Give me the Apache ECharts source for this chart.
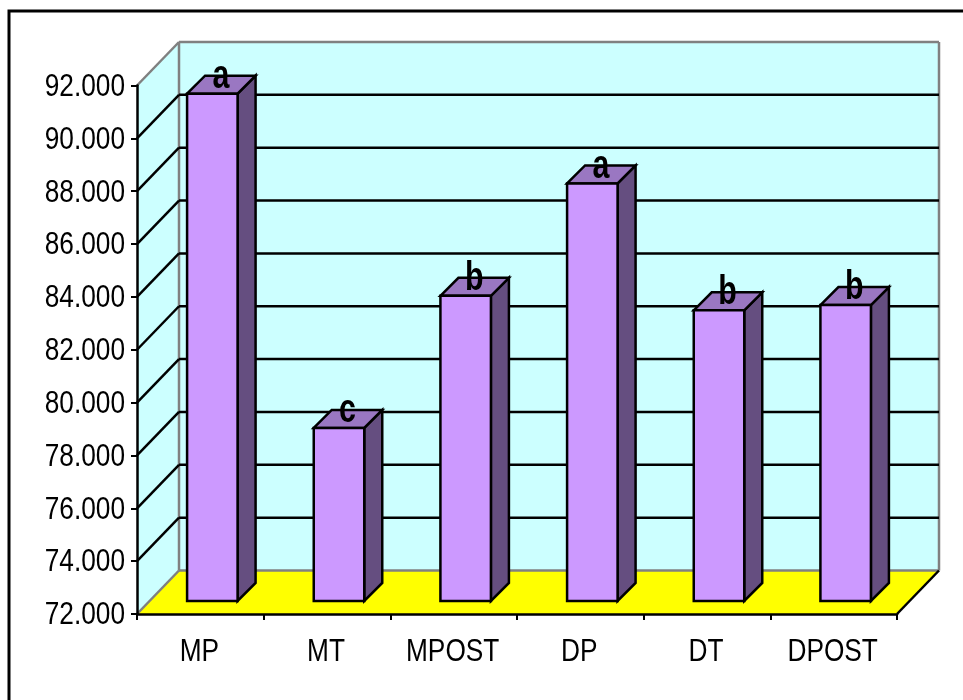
<!DOCTYPE html>
<html>
<head>
<meta charset="utf-8">
<style>
  html, body { margin: 0; padding: 0; background: #fff; overflow: hidden; }
  #chart { width: 963px; height: 700px; }
</style>
<script src="https://cdn.jsdelivr.net/npm/echarts@6/dist/echarts.min.js"></script>
</head>
<body>
<div id="chart"></div>
<script>
// Categories and measured means
const categories = ['MP', 'MT', 'MPOST', 'DP', 'DT', 'DPOST'];
const means = [91.2, 78.55, 83.55, 87.8, 83.0, 83.2];
const groupLetters = ['a', 'c', 'b', 'a', 'b', 'b'];
const gridLevels = [74, 76, 78, 80, 82, 84, 86, 88, 90];
const tickValues = [72, 74, 76, 78, 80, 82, 84, 86, 88, 90, 92];
const tickLabels = ['72.000', '74.000', '76.000', '78.000', '80.000', '82.000', '84.000', '86.000', '88.000', '90.000', '92.000'];
const axisMin = 72;
const axisMax = 92;
const axisStep = 2;

// Oblique projection of the pseudo-3D box
const DEPTH_X = 42;
const DEPTH_Y = -43.5;
const BAR_SHIFT_X = 12;
const BAR_SHIFT_Y = -13;
const BAR_DEPTH = 18;
const BAR_WIDTH = 50.5;

const FONT = '"Liberation Sans", Arial, sans-serif';
const NARROW = 0.82;

function poly(points, fill, stroke, lineWidth) {
  return {
    type: 'polygon',
    shape: { points },
    style: { fill, stroke: stroke || null, lineWidth: lineWidth || 0, lineJoin: 'miter' }
  };
}
function seg(a, b, stroke, lineWidth) {
  return {
    type: 'line',
    shape: { x1: a[0], y1: a[1], x2: b[0], y2: b[1] },
    style: { stroke, lineWidth }
  };
}
// Horizontally condensed text anchored at x, y
function squeezedText(x, y, text, font, align, vAlign, squeeze) {
  return {
    type: 'text',
    x, y,
    scaleX: squeeze,
    z2: 5,
    style: { x: 0, y: 0, text, fill: '#000', font, align, verticalAlign: vAlign }
  };
}

// Side wall, back wall and floor of the box
function renderRoom(params, api) {
  const cs = params.coordSys;
  const left = cs.x, right = cs.x + cs.width, top = cs.y, bottom = cs.y + cs.height;
  const dx = DEPTH_X, dy = DEPTH_Y;
  const wall = '#ccffff', edge = '#808080';
  return {
    type: 'group',
    children: [
      poly([[left, top], [left + dx, top + dy], [left + dx, bottom + dy], [left, bottom]], wall),
      poly([[left + dx, top + dy], [right + dx, top + dy], [right + dx, bottom + dy], [left + dx, bottom + dy]], wall),
      poly([[left, bottom], [left + dx, bottom + dy], [right + dx, bottom + dy], [right, bottom]], '#ffff00'),
      seg([left, top], [left + dx, top + dy], edge, 2.5),
      seg([left + dx, top + dy], [right + dx, top + dy], edge, 2.5),
      seg([right + dx, top + dy], [right + dx, bottom + dy], edge, 2.5),
      seg([left + dx, top + dy], [left + dx, bottom + dy], edge, 2.5),
      seg([left + dx, bottom + dy], [right + dx, bottom + dy], edge, 2.5),
      seg([left, bottom], [left + dx, bottom + dy], edge, 2.5),
      seg([right, bottom], [right + dx, bottom + dy], '#000', 2.5)
    ]
  };
}

// One gridline level bent across the side wall and the back wall
function renderLevel(params, api) {
  const cs = params.coordSys;
  const y = api.coord([0, api.value(0)])[1];
  const left = cs.x, right = cs.x + cs.width;
  return {
    type: 'group',
    children: [
      seg([left, y], [left + DEPTH_X, y + DEPTH_Y], '#000', 2.5),
      seg([left + DEPTH_X, y + DEPTH_Y], [right + DEPTH_X, y + DEPTH_Y], '#000', 2.5)
    ]
  };
}

// A prism standing on the floor, with its letter above the top face
function renderBar(params, api) {
  const p = api.coord([api.value(0), api.value(1)]);
  const base = api.coord([api.value(0), axisMin]);
  const x0 = p[0] + BAR_SHIFT_X - BAR_WIDTH / 2;
  const x1 = x0 + BAR_WIDTH;
  const yTop = p[1] + BAR_SHIFT_Y;
  const yBase = base[1] + BAR_SHIFT_Y;
  const d = BAR_DEPTH;
  const stroke = '#000', lw = 2.5;
  return {
    type: 'group',
    children: [
      poly([[x1, yTop], [x1 + d, yTop - d], [x1 + d, yBase - d], [x1, yBase]], '#654e80', stroke, lw),
      poly([[x0, yTop], [x0 + d, yTop - d], [x1 + d, yTop - d], [x1, yTop]], '#9a77c2', stroke, lw),
      poly([[x0, yTop], [x1, yTop], [x1, yBase], [x0, yBase]], '#cc99ff', stroke, lw),
      squeezedText(x0 + BAR_WIDTH / 2 + d / 2 - 0.5, yTop + 3, groupLetters[params.dataIndex],
        'bold 40px ' + FONT, 'center', 'bottom', 0.76)
    ]
  };
}

// Category names under the floor edge
function renderCategoryLabel(params, api) {
  const p = api.coord([api.value(0), axisMin]);
  return squeezedText(p[0] - 1, p[1] + 38, categories[params.dataIndex],
    '32px ' + FONT, 'center', 'middle', NARROW);
}

// Value labels to the left of the axis
function renderValueLabel(params, api) {
  const p = api.coord([0, api.value(0)]);
  return squeezedText(params.coordSys.x - 12, p[1] + 1.5, tickLabels[params.dataIndex],
    '32px ' + FONT, 'right', 'middle', NARROW);
}

const chart = echarts.init(document.getElementById('chart'), null, { renderer: 'canvas' });
chart.setOption({
  animation: false,
  backgroundColor: '#fff',
  grid: { left: 137, right: 66, top: 85.5, bottom: 86 },
  graphic: [{
    type: 'rect',
    silent: true,
    z: -10,
    shape: { x: 9, y: 11, width: 1100, height: 1000 },
    style: { fill: 'none', stroke: '#000', lineWidth: 3 }
  }],
  xAxis: {
    type: 'category',
    data: categories,
    z: 10,
    axisLine: { show: true, lineStyle: { color: '#000', width: 2.5 } },
    axisTick: { show: true, interval: 0, length: 6, lineStyle: { color: '#000', width: 2 } },
    axisLabel: { show: false }
  },
  yAxis: {
    type: 'value',
    min: axisMin,
    max: axisMax,
    interval: axisStep,
    z: 10,
    axisLine: { show: true, lineStyle: { color: '#000', width: 2.5 } },
    axisTick: { show: true, length: 6, lineStyle: { color: '#000', width: 2 } },
    axisLabel: { show: false },
    splitLine: { show: false }
  },
  series: [
    { type: 'custom', z: 1, clip: false, silent: true, renderItem: renderRoom, data: [0], encode: { x: 0 } },
    { type: 'custom', z: 2, clip: false, silent: true, renderItem: renderLevel, data: gridLevels.map(v => [v]), encode: { y: 0 } },
    { type: 'custom', z: 3, clip: false, silent: true, renderItem: renderBar,
      data: categories.map((c, i) => [i, means[i]]), encode: { x: 0, y: 1 } },
    { type: 'custom', z: 4, clip: false, silent: true, renderItem: renderCategoryLabel,
      data: categories.map((c, i) => [i]), encode: { x: 0 } },
    { type: 'custom', z: 4, clip: false, silent: true, renderItem: renderValueLabel,
      data: tickValues.map(v => [v]), encode: { y: 0 } }
  ]
});
</script>
</body>
</html>
